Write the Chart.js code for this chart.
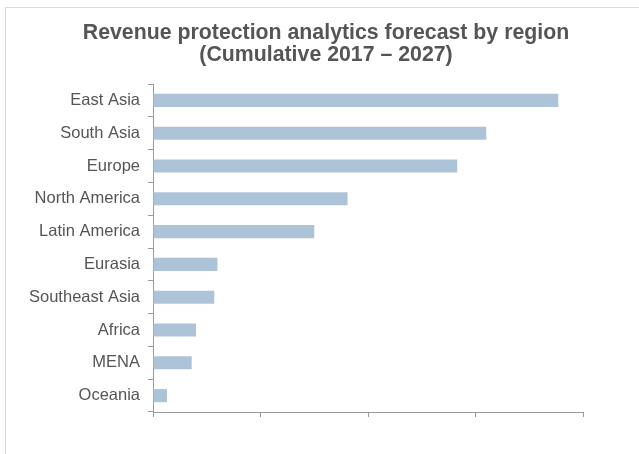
<!DOCTYPE html>
<html>
<head>
<meta charset="utf-8">
<script src="https://cdn.jsdelivr.net/npm/chart.js@4/dist/chart.umd.min.js"></script>
<style>
  html, body { margin: 0; padding: 0; background: #fff; }
  #wrap { position: relative; width: 639px; height: 454px; overflow: hidden; }
  #frame { position: absolute; left: 5px; top: 7px; width: 700px; height: 500px; border: 1px solid #d3dde8; box-sizing: border-box; }
  canvas { position: absolute; left: 0; top: 0; }
</style>
</head>
<body>
<div id="wrap">
  <div id="frame"></div>
  <canvas id="c" width="639" height="454"></canvas>
</div>
<script>
const categories = ["East Asia", "South Asia", "Europe", "North America", "Latin America", "Eurasia", "Southeast Asia", "Africa", "MENA", "Oceania"];
const values = [3.77, 3.10, 2.83, 1.81, 1.50, 0.60, 0.57, 0.40, 0.36, 0.13];
const titleLines = ["Revenue protection analytics forecast by region", "(Cumulative 2017 \u2013 2027)"];
const xMin = 0, xMax = 4, xStep = 1;

const FONT = "'Liberation Sans', Arial, Helvetica, sans-serif";
Chart.defaults.font.family = FONT;

const titlePlugin = {
  id: 'titleLines',
  afterDraw(chart) {
    const ctx = chart.ctx;
    ctx.save();
    ctx.fillStyle = '#555555';
    ctx.font = "bold 21.3px " + FONT;
    ctx.textAlign = 'center';
    ctx.textBaseline = 'alphabetic';
    const baselines = [39, 60.5];
    titleLines.forEach((t, i) => ctx.fillText(t, 326, baselines[i]));
    ctx.restore();
  }
};

new Chart(document.getElementById('c'), {
  type: 'bar',
  data: {
    labels: categories,
    datasets: [{
      data: values,
      backgroundColor: '#adc4d8',
      borderWidth: 0,
      barPercentage: 0.4,
      categoryPercentage: 1.0
    }]
  },
  plugins: [titlePlugin],
  options: {
    indexAxis: 'y',
    responsive: false,
    animation: false,
    layout: { padding: { left: 0, right: 56, top: 84, bottom: 0 } },
    plugins: {
      legend: { display: false },
      tooltip: { enabled: false },
      title: { display: false }
    },
    scales: {
      x: {
        min: xMin, max: xMax,
        ticks: { stepSize: xStep, display: false },
        grid: { drawOnChartArea: false, drawTicks: true, tickLength: 5, color: '#9a9a9a' },
        border: { color: '#9a9a9a', width: 1 },
        afterFit: (s) => { s.height = 42; }
      },
      y: {
        ticks: { color: '#555555', font: { size: 16.5 }, padding: 8 },
        grid: { offset: true, drawOnChartArea: false, drawTicks: true, tickLength: 5, color: '#9a9a9a' },
        border: { color: '#9a9a9a', width: 1 },
        afterFit: (s) => { s.width = 153; }
      }
    }
  }
});
</script>
</body>
</html>
